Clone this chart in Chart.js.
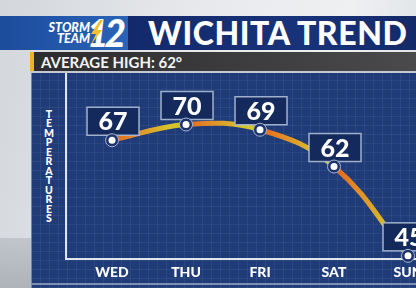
<!DOCTYPE html>
<html>
<head>
<meta charset="utf-8">
<script src="https://cdn.jsdelivr.net/npm/chart.js@4"></script>
<style>
  html, body { margin: 0; padding: 0; }
  body {
    width: 416px; height: 288px; overflow: hidden; position: relative;
    background: linear-gradient(100deg, #d3d6db 0%, #e6e8eb 40%, #eef0f2 75%, #dcdfe3 100%);
    font-family: Lato, "Open Sans", sans-serif;
  }
  #shade { position: absolute; left: 0; top: 238px; width: 31px; height: 50px;
    background: linear-gradient(180deg, rgba(170,175,183,0.5), #aeb2b9); }
  #banner { position: absolute; left: 0; top: 16px; width: 416px; height: 34px; }
  #bl { position: absolute; left: 0; top: 0; width: 128px; height: 34px;
    background: linear-gradient(90deg, #1c4c9c, #2a63b8); }
  #br { position: absolute; left: 128px; top: 0; right: 0; height: 34px;
    background: linear-gradient(90deg, #13296a, #18337a 60%, #142a68); }
  #title { position: absolute; left: 148px; top: 0; height: 34px; line-height: 34px;
    font-size: 32px; letter-spacing: 0.6px; font-weight: 900; color: #fff; white-space: nowrap; }
  #storm { position: absolute; left: 38px; top: 7px; color: #fff; font-style: italic;
    font-weight: 900; font-size: 12.5px; line-height: 10.5px; text-align: right; width: 52px; }
  #twelve { position: absolute; left: 87px; top: 0; height: 34px; line-height: 34px; color: #fff;
    font-style: italic; font-weight: 900; font-size: 37px; letter-spacing: -4px; }
  #bolt { position: absolute; left: 86px; top: 3px; }
  #greybar { position: absolute; left: 30px; top: 52px; width: 386px; height: 19px;
    background: linear-gradient(90deg, #2c2c2e, #3b3b3d 50%, #4a4a4c); }
  #accent { position: absolute; left: 30px; top: 52px; width: 4px; height: 19px; background: #f0b323; }
  #avg { position: absolute; left: 41px; top: 52px; height: 19px; line-height: 20px;
    font-size: 15px; font-weight: 700; color: #f4f4f4; white-space: nowrap; }
  #sep { position: absolute; left: 30px; top: 71px; width: 386px; height: 2px; background: #c3c8d2; }
  #panel { position: absolute; left: 31px; top: 73px; right: 0; height: 215px;
    background-color: #1f3c79;
    background-image:
      repeating-linear-gradient(0deg, rgba(255,255,255,0.055) 0 1px, transparent 1px 9px),
      repeating-linear-gradient(90deg, rgba(255,255,255,0.055) 0 1px, transparent 1px 9px);
    box-shadow: inset 1px 0 0 #6f83ad; }
  #pbottom { position: absolute; left: 31px; top: 283px; right: 0; height: 2px; background: #7d8fb5; }
  #ytitle { position: absolute; left: 42px; top: 110px; width: 14px; text-align: center;
    font-size: 10.5px; font-weight: 900; line-height: 9.45px; color: #fff; }
  #chart { position: absolute; left: 0; top: 73px; }
</style>
</head>
<body>
<div id="shade"></div>
<div id="banner">
  <div id="bl"></div>
  <div id="br"></div>
  <div id="storm">STORM<br>TEAM</div>
  <div id="twelve">12</div>
  <svg id="bolt" width="20" height="28" viewBox="0 0 20 28">
    <polygon points="14,1 5,15 10,15 4,27 16,11 11,11 17,1" fill="#f2c12e"/>
  </svg>
  <div id="title">WICHITA TREND</div>
</div>
<div id="greybar"></div>
<div id="accent"></div>
<div id="avg">AVERAGE HIGH: 62°</div>
<div id="sep"></div>
<div id="panel"></div>
<div id="pbottom"></div>
<div id="ytitle"></div>
<canvas id="chart" width="416" height="215"></canvas>
<script>
const days = ['WED', 'THU', 'FRI', 'SAT', 'SUN'];
const highs = [67, 70, 69, 62, 45];
const yAxisTitle = 'TEMPERATURES';

document.getElementById('ytitle').innerHTML = yAxisTitle.split('').join('<br>');

// orange at the start of each segment fading to yellow
function segColor(ctx) {
  const c = ctx.chart.ctx;
  const g = c.createLinearGradient(ctx.p0.x, 0, ctx.p1.x, 0);
  g.addColorStop(0, '#e5661e');
  g.addColorStop(0.3, '#e38a27');
  g.addColorStop(0.75, '#d6c22c');
  g.addColorStop(1, '#d3c830');
  return g;
}

const labelBoxes = {
  id: 'labelBoxes',
  afterDatasetsDraw(chart) {
    const c = chart.ctx;
    const meta = chart.getDatasetMeta(0);
    c.save();
    meta.data.forEach((pt, i) => {
      const w = 52, h = 28;
      const bx = pt.x + 1 - w / 2, by = pt.y - 5 - h;
      c.fillStyle = '#142a5c';
      c.fillRect(bx, by, w, h);
      c.strokeStyle = 'rgba(175,190,215,0.9)';
      c.lineWidth = 1.5;
      c.strokeRect(bx, by, w, h);
      c.fillStyle = '#fff';
      c.font = '900 25px Lato, "Open Sans", sans-serif';
      c.textAlign = 'center';
      c.textBaseline = 'middle';
      c.fillText(String(highs[i]), pt.x + 1, by + h / 2 + 1);
      // point marker
      c.beginPath();
      c.arc(pt.x, pt.y, 6.5, 0, Math.PI * 2);
      c.fillStyle = '#1c336e';
      c.fill();
      c.strokeStyle = '#a9b6cf';
      c.lineWidth = 1;
      c.stroke();
      c.beginPath();
      c.arc(pt.x, pt.y, 3.5, 0, Math.PI * 2);
      c.fillStyle = '#fff';
      c.fill();
    });
    c.restore();
  }
};

new Chart(document.getElementById('chart'), {
  type: 'line',
  data: {
    datasets: [{
      data: days.map((d, i) => ({ x: i, y: highs[i] })),
      borderWidth: 5,
      tension: 0.4,
      pointRadius: 0,
      clip: false,
      segment: { borderColor: segColor }
    }]
  },
  options: {
    responsive: false,
    animation: false,
    layout: { padding: 0 },
    plugins: { legend: { display: false }, tooltip: { enabled: false } },
    scales: {
      x: {
        type: 'linear', min: -0.622, max: 4.108,
        grid: { display: false, drawTicks: false },
        border: { display: true, color: '#dfe4ee', width: 2 },
        ticks: {
          stepSize: 1, includeBounds: false, autoSkip: false, maxRotation: 0, padding: 5,
          color: '#fff', font: { family: 'Lato', weight: '900', size: 14 },
          callback: v => days[v] ?? ''
        },
        afterFit(s) { s.height = 29; s.paddingLeft = 0; s.paddingRight = 0; }
      },
      y: {
        min: 44.4, max: 79.8,
        grid: { display: false, drawTicks: false },
        border: { display: true, color: '#dfe4ee', width: 2 },
        ticks: { display: false },
        afterFit(s) { s.width = 66; }
      }
    }
  },
  plugins: [labelBoxes]
});
</script>
</body>
</html>
